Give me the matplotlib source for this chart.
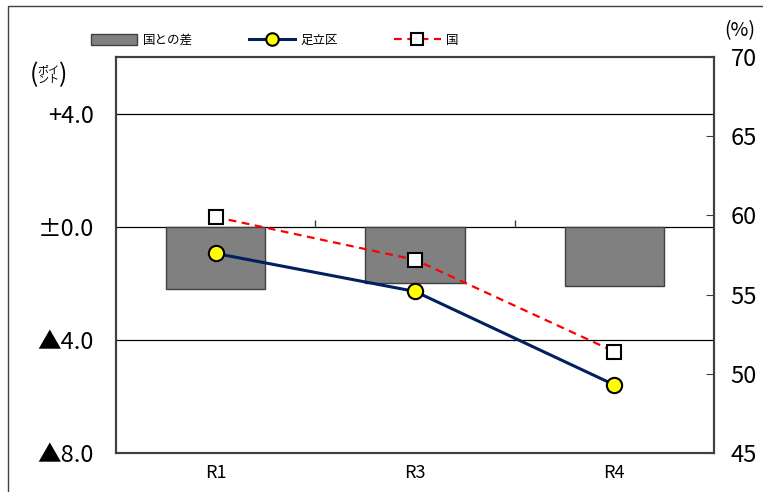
import matplotlib
matplotlib.use("Agg")
import matplotlib.pyplot as plt
from matplotlib.patches import Patch, Rectangle
from matplotlib.lines import Line2D

plt.rcParams['font.family'] = ['Noto Sans CJK JP', 'DejaVu Sans']

# data
years = ['R1', 'R3', 'R4']
adachi = [57.6, 55.2, 49.3]      # 足立区 (%)
national = [59.9, 57.2, 51.4]    # 国 (%)
diff = [-2.2, -2.0, -2.1]        # 国との差 (ポイント)

left_ticks = [4, 0, -4, -8]
left_labels = ['+4.0', '±0.0', '▲4.0', '▲8.0']
right_ticks = [45, 50, 55, 60, 65, 70]

fig = plt.figure(figsize=(7.63, 4.92), dpi=100)
ax = fig.add_axes([0.152, 0.0793, 0.7838, 0.8048])

# outer chart border
fig.patches.append(Rectangle((8 / 763, -0.1), 1.1, 1 - 6 / 492 + 0.1,
                             transform=fig.transFigure, fill=False,
                             edgecolor='#404040', linewidth=1.0))

x = list(range(len(years)))
ax.bar(x, diff, width=0.5, color='#808080', edgecolor='#404040',
       linewidth=1.0, zorder=2)
for yv in [4, 0, -4]:
    ax.axhline(yv, color='black', linewidth=0.9, zorder=1)
# category tick marks on the zero line
ax.vlines([0.5, 1.5], 0, 0.22, color='#404040', linewidth=1.0, zorder=1)

ax.set_xlim(-0.5, 2.5)
ax.set_ylim(-8, 6)
ax.set_yticks(left_ticks)
ax.set_yticklabels(left_labels, fontsize=17)
ax.set_xticks(x)
ax.set_xticklabels(years, fontsize=13)
ax.tick_params(axis='x', length=0, pad=8)
ax.tick_params(axis='y', length=0, pad=16)
for s in ax.spines.values():
    s.set_color('#404040')
    s.set_linewidth(1.5)

ax2 = ax.twinx()
ax2.plot(x, adachi, color='#002060', linewidth=2.2, marker='o',
         markersize=11, markerfacecolor='#FFFF00', markeredgecolor='black',
         markeredgewidth=1.5, zorder=4)
ax2.plot(x, national, color='#FF0000', linewidth=1.6, linestyle=(0, (3.5, 2.5)),
         marker='s', markersize=10, markerfacecolor='white',
         markeredgecolor='black', markeredgewidth=1.5, zorder=3)
ax2.set_ylim(45, 70)
ax2.set_yticks(right_ticks)
ax2.set_yticklabels([str(t) for t in right_ticks], fontsize=17)
ax2.tick_params(axis='y', direction='in', length=6, color='#404040', pad=12)
for s in ax2.spines.values():
    s.set_color('#404040')
    s.set_linewidth(1.5)

# legend
handles = [
    Patch(facecolor='#808080', edgecolor='#404040', linewidth=1.0),
    Line2D([], [], color='#002060', linewidth=2.2, marker='o', markersize=9,
           markerfacecolor='#FFFF00', markeredgecolor='black', markeredgewidth=1.5),
    Line2D([], [], color='#FF0000', linewidth=1.6, linestyle=(0, (3.5, 2.5)),
           marker='s', markersize=8, markerfacecolor='white',
           markeredgecolor='black', markeredgewidth=1.5),
]
fig.legend(handles, ['国との差', '足立区', '国'], ncol=3, frameon=False,
           loc='center', bbox_to_anchor=(0.36, 0.918), fontsize=9,
           handlelength=3.7, handleheight=0.9, columnspacing=4.5,
           handletextpad=0.45)

# axis unit labels
fig.text(0.045, 0.847, '(', fontsize=18, va='center', ha='center')
fig.text(0.064, 0.847, 'ポイ\nント', fontsize=8, va='center', ha='center',
         linespacing=1.0)
fig.text(0.083, 0.847, ')', fontsize=18, va='center', ha='center')
fig.text(0.97, 0.938, '(%)', fontsize=14, va='center', ha='center')

fig.savefig('out.png', dpi=100)
